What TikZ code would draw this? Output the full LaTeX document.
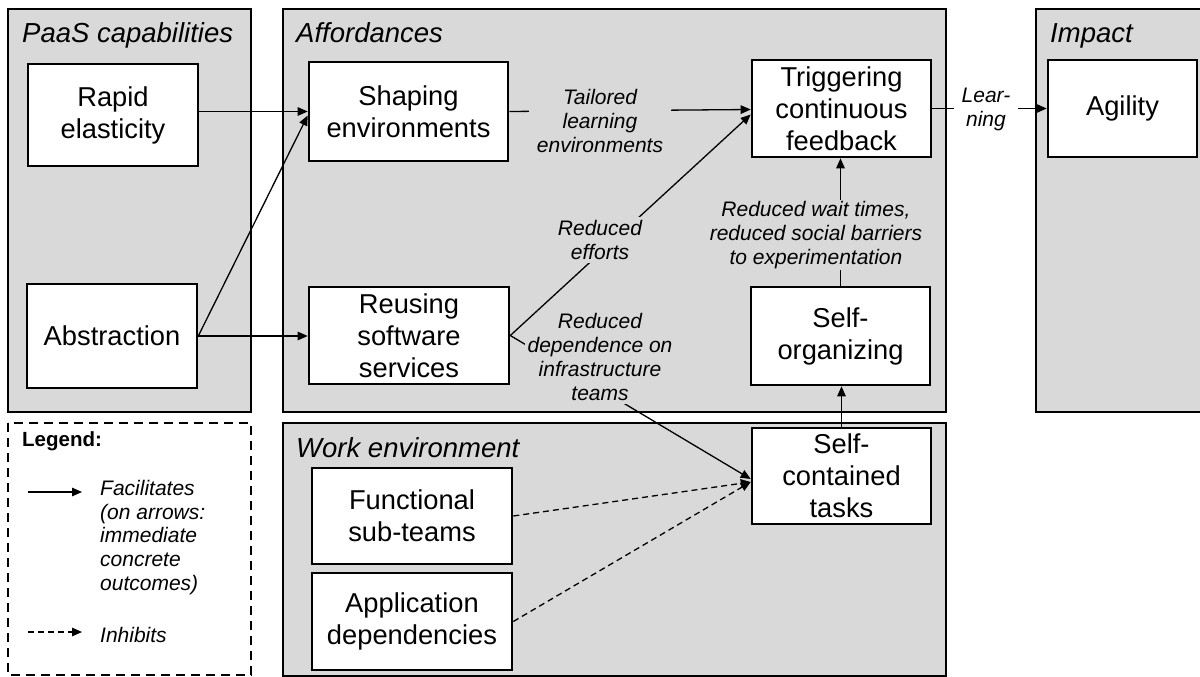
\documentclass[tikz,border=0pt]{standalone}
\usepackage{fontspec}
\setmainfont{Liberation Sans}
\usetikzlibrary{arrows.meta}

\definecolor{panelgray}{HTML}{D9D9D9}

\tikzset{
  panel/.style={draw=black, line width=2.6pt, fill=panelgray},
  legendframe/.style={draw=black, line width=2.4pt, dash pattern=on 9pt off 6pt},
  box/.style={draw=black, line width=2.6pt, fill=white, align=center, inner sep=0pt,
    font=\fontsize{27.3}{32}\selectfont},
  ptitle/.style={anchor=base west, inner sep=0pt, font=\fontsize{27.5}{32}\selectfont\itshape},
  elabel/.style={fill=panelgray, align=center, inner xsep=8pt, inner ysep=3pt,
    font=\fontsize{21}{24}\selectfont\itshape},
  legtext/.style={inner sep=0pt, align=left, font=\fontsize{21}{23.75}\selectfont\itshape},
  facil/.style={-{Triangle[length=10pt,width=8.5pt]}, line width=1.3pt},
  inhib/.style={facil, dash pattern=on 6pt off 4pt},
}

\begin{document}
\begin{tikzpicture}[x=1pt, y=-1pt]
\useasboundingbox (0,0) rectangle (1200,677);
\clip (0,0) rectangle (1200,677);

% panels
\draw[panel] (8,9) rectangle (251,412);
\draw[panel] (283,9) rectangle (946,412);
\draw[panel] (1036,9) rectangle (1215,412);
\draw[panel] (283,423) rectangle (946,676);
\draw[legendframe] (8,423) rectangle (251,675);

\node[ptitle] (tpaas) at (22,43) {PaaS capabilities};
\node[ptitle] (taff) at (296,43) {Affordances};
\node[ptitle] (timp) at (1050,43) {Impact};
\node[ptitle] (twork) at (296,457) {Work environment};

% concept boxes
\node[box, minimum width=170pt, minimum height=102pt] (rapid) at (113,115) {Rapid\\elasticity};
\node[box, minimum width=170pt, minimum height=104pt] (abstr) at (112,336) {Abstraction};
\node[box, minimum width=199pt, minimum height=99pt] (shaping) at (408.5,111.5) {Shaping\\environments};
\node[box, minimum width=200pt, minimum height=97pt] (reusing) at (409,335.5) {Reusing\\software\\services};
\node[box, minimum width=179pt, minimum height=97pt] (trig) at (841.5,108.5) {Triggering\\continuous\\feedback};
\node[box, minimum width=179pt, minimum height=98pt] (selforg) at (840.5,336) {Self-\\organizing};
\node[box, minimum width=179pt, minimum height=96pt] (selfcont) at (841.5,476) {Self-\\contained\\tasks};
\node[box, minimum width=200pt, minimum height=96pt] (func) at (412,516) {Functional\\sub-teams};
\node[box, minimum width=200pt, minimum height=97pt] (appdep) at (412,621.5) {Application\\dependencies};
\node[box, minimum width=149pt, minimum height=97pt] (agility) at (1122.5,108.5) {Agility};

% facilitating links
\draw[facil] (rapid.east |- shaping.west) -- (shaping.west);
\draw[facil] (abstr.east) -- ([yshift=-4pt]shaping.west);
\draw[facil] (abstr.east) -- (abstr.east -| reusing.west);
\draw[facil] (shaping.east) -- ([yshift=-1pt]trig.west);
\draw[facil] (reusing.east) -- ([yshift=-3pt]selfcont.west);
\draw[facil] (selforg.north) -- (selforg.north |- trig.south);
\draw[facil] (selfcont.north) -- (selfcont.north |- selforg.south);
\draw[facil] (trig.east) -- (agility.west);

% inhibiting links
\draw[inhib] (func.east) -- ([yshift=-6pt]selfcont.west);
\draw[inhib] (appdep.east) -- ([yshift=-6pt]selfcont.west);

% link labels
\node[elabel] (lbtail) at (600,121) {Tailored\\learning\\environments};
\node[elabel, inner xsep=3pt] (lbdep) at (600,357) {Reduced\\dependence on\\infrastructure\\teams};
\node[elabel, inner ysep=1pt] (lbwait) at (816,235) {Reduced wait times,\\reduced social barriers\\to experimentation};
\node[elabel, fill=white] (lblearn) at (986,109) {Lear-\\ning};

\draw[facil] (reusing.east) -- ([yshift=-6pt]trig.west);
\node[elabel] (lbeff) at (600,240) {Reduced\\efforts};

% legend
\node[anchor=base west, inner sep=0pt, font=\fontsize{20.5}{24}\selectfont\bfseries] (legtitle) at (22,446) {Legend:};
\coordinate (fa) at (28,492);
\coordinate (fb) at (82,492);
\draw[facil] (fa) -- (fb);
\node[legtext, anchor=north west] (factext) at (100,480) {Facilitates\\(on arrows:\\immediate\\concrete\\outcomes)};
\coordinate (ia) at (28,632);
\coordinate (ib) at (82,632);
\draw[inhib] (ia) -- (ib);
\node[legtext, anchor=base west] (inhtext) at (100,642) {Inhibits};
\end{tikzpicture}
\end{document}
